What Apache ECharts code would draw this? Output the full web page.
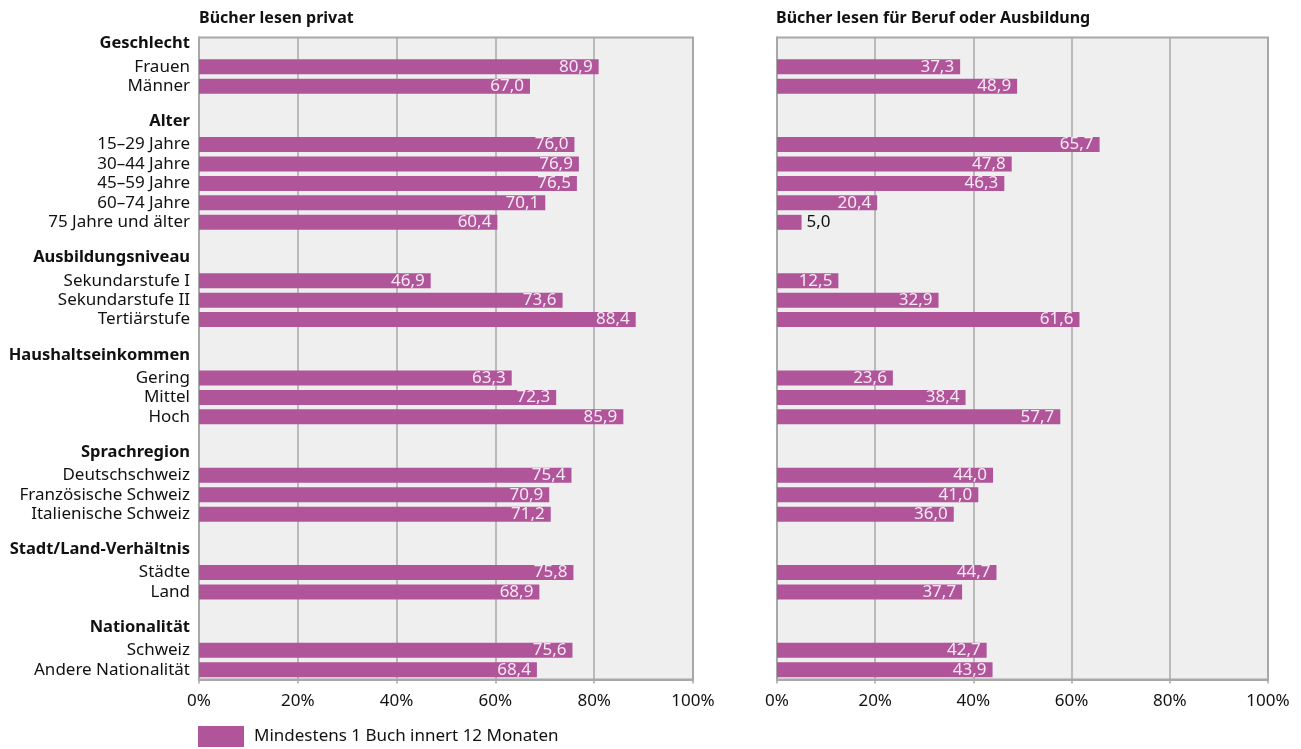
<!DOCTYPE html>
<html><head><meta charset="utf-8">
<script src="https://cdn.jsdelivr.net/npm/echarts@6/dist/echarts.min.js"></script>
<style>html,body{margin:0;padding:0;background:#fff}#c{width:1301px;height:749px}</style>
</head><body><div id="c"></div>
<script>
// Rows: header rows are marked in headers, blank spacer rows are ' ' strings
const categories = [
  'Geschlecht','Frauen','Männer',' ',
  'Alter','15–29 Jahre','30–44 Jahre','45–59 Jahre','60–74 Jahre','75 Jahre und älter','  ',
  'Ausbildungsniveau','Sekundarstufe I','Sekundarstufe II','Tertiärstufe','   ',
  'Haushaltseinkommen','Gering','Mittel','Hoch','    ',
  'Sprachregion','Deutschschweiz','Französische Schweiz','Italienische Schweiz','     ',
  'Stadt/Land-Verhältnis','Städte','Land','      ',
  'Nationalität','Schweiz','Andere Nationalität'
];
const headers = ['Geschlecht','Alter','Ausbildungsniveau','Haushaltseinkommen','Sprachregion','Stadt/Land-Verhältnis','Nationalität'];
const privat = [
  null,80.9,67.0,null,
  null,76.0,76.9,76.5,70.1,60.4,null,
  null,46.9,73.6,88.4,null,
  null,63.3,72.3,85.9,null,
  null,75.4,70.9,71.2,null,
  null,75.8,68.9,null,
  null,75.6,68.4
];
const beruf = [
  null,37.3,48.9,null,
  null,65.7,47.8,46.3,20.4,5.0,null,
  null,12.5,32.9,61.6,null,
  null,23.6,38.4,57.7,null,
  null,44.0,41.0,36.0,null,
  null,44.7,37.7,null,
  null,42.7,43.9
];
const tickLabels = ['0%','20%','40%','60%','80%','100%'];
const titles = ['Bücher lesen privat','Bücher lesen für Beruf oder Ausbildung'];
const seriesName = 'Mindestens 1 Buch innert 12 Monaten';

const FONT = 'Noto Sans';
const barColor = '#b05599';
const gridCol = '#a8a8a8';
const fmt = v => v.toFixed(1).replace('.', ',');

function items(arr){
  return arr.map(v => {
    if (v === null) return '-';
    if (v < 10) return {value: v, label: {position: 'right', color: '#111', distance: 5}};
    return v;
  });
}
function xAx(i){
  return {
    gridIndex: i, type: 'value', min: 0, max: 100, interval: 20,
    axisLine: {show: true, lineStyle: {color: gridCol, width: 2}},
    axisTick: {show: true, length: 4, lineStyle: {color: gridCol, width: 1.5}},
    splitLine: {show: true, lineStyle: {color: gridCol, width: 1.5}},
    axisLabel: {formatter: v => tickLabels[v/20], fontFamily: FONT, fontSize: 17, color: '#111', margin: 13}
  };
}
function yAx(i, showLabels){
  return {
    gridIndex: i, type: 'category', data: categories, inverse: true,
    axisLine: {show: true, lineStyle: {color: gridCol, width: 2}},
    axisTick: {show: false},
    splitLine: {show: false},
    axisLabel: {
      show: showLabels, interval: 0, margin: 9, fontFamily: FONT, fontSize: 17, color: '#111',
      formatter: v => headers.includes(v) ? '{h|' + v + '}' : v,
      rich: {h: {fontFamily: FONT, fontSize: 16.5, fontWeight: 'bold', color: '#111', padding: [0,0,7,0]}}
    }
  };
}
function ser(i, arr){
  return {
    name: seriesName, type: 'bar', xAxisIndex: i, yAxisIndex: i,
    data: items(arr), barWidth: 15,
    itemStyle: {color: barColor},
    label: {show: true, position: 'insideRight', distance: 6, color: '#f6e9f3',
      fontFamily: FONT, fontSize: 17, formatter: p => fmt(p.value)},
    emphasis: {disabled: true}, animation: false
  };
}
const chart = echarts.init(document.getElementById('c'));
chart.setOption({
  animation: false,
  title: [
    {text: titles[0], left: 194, top: 5, textStyle: {fontFamily: FONT, fontSize: 16, fontWeight: 'bold', color: '#111'}},
    {text: titles[1], left: 771, top: 5, textStyle: {fontFamily: FONT, fontSize: 16, fontWeight: 'bold', color: '#111'}}
  ],
  legend: {
    data: [seriesName], left: 193, top: 721, itemWidth: 46, itemHeight: 21, itemGap: 10, icon: 'rect',
    textStyle: {fontFamily: FONT, fontSize: 17, color: '#111', padding: [0,0,0,5]}, selectedMode: false
  },
  grid: [
    {left: 199, top: 37.5, width: 494, height: 642, show: true, backgroundColor: '#efefef', borderColor: gridCol, borderWidth: 2},
    {left: 777, top: 37.5, width: 491, height: 642, show: true, backgroundColor: '#efefef', borderColor: gridCol, borderWidth: 2}
  ],
  xAxis: [xAx(0), xAx(1)],
  yAxis: [yAx(0, true), yAx(1, false)],
  series: [ser(0, privat), ser(1, beruf)]
});
</script>
</body></html>
